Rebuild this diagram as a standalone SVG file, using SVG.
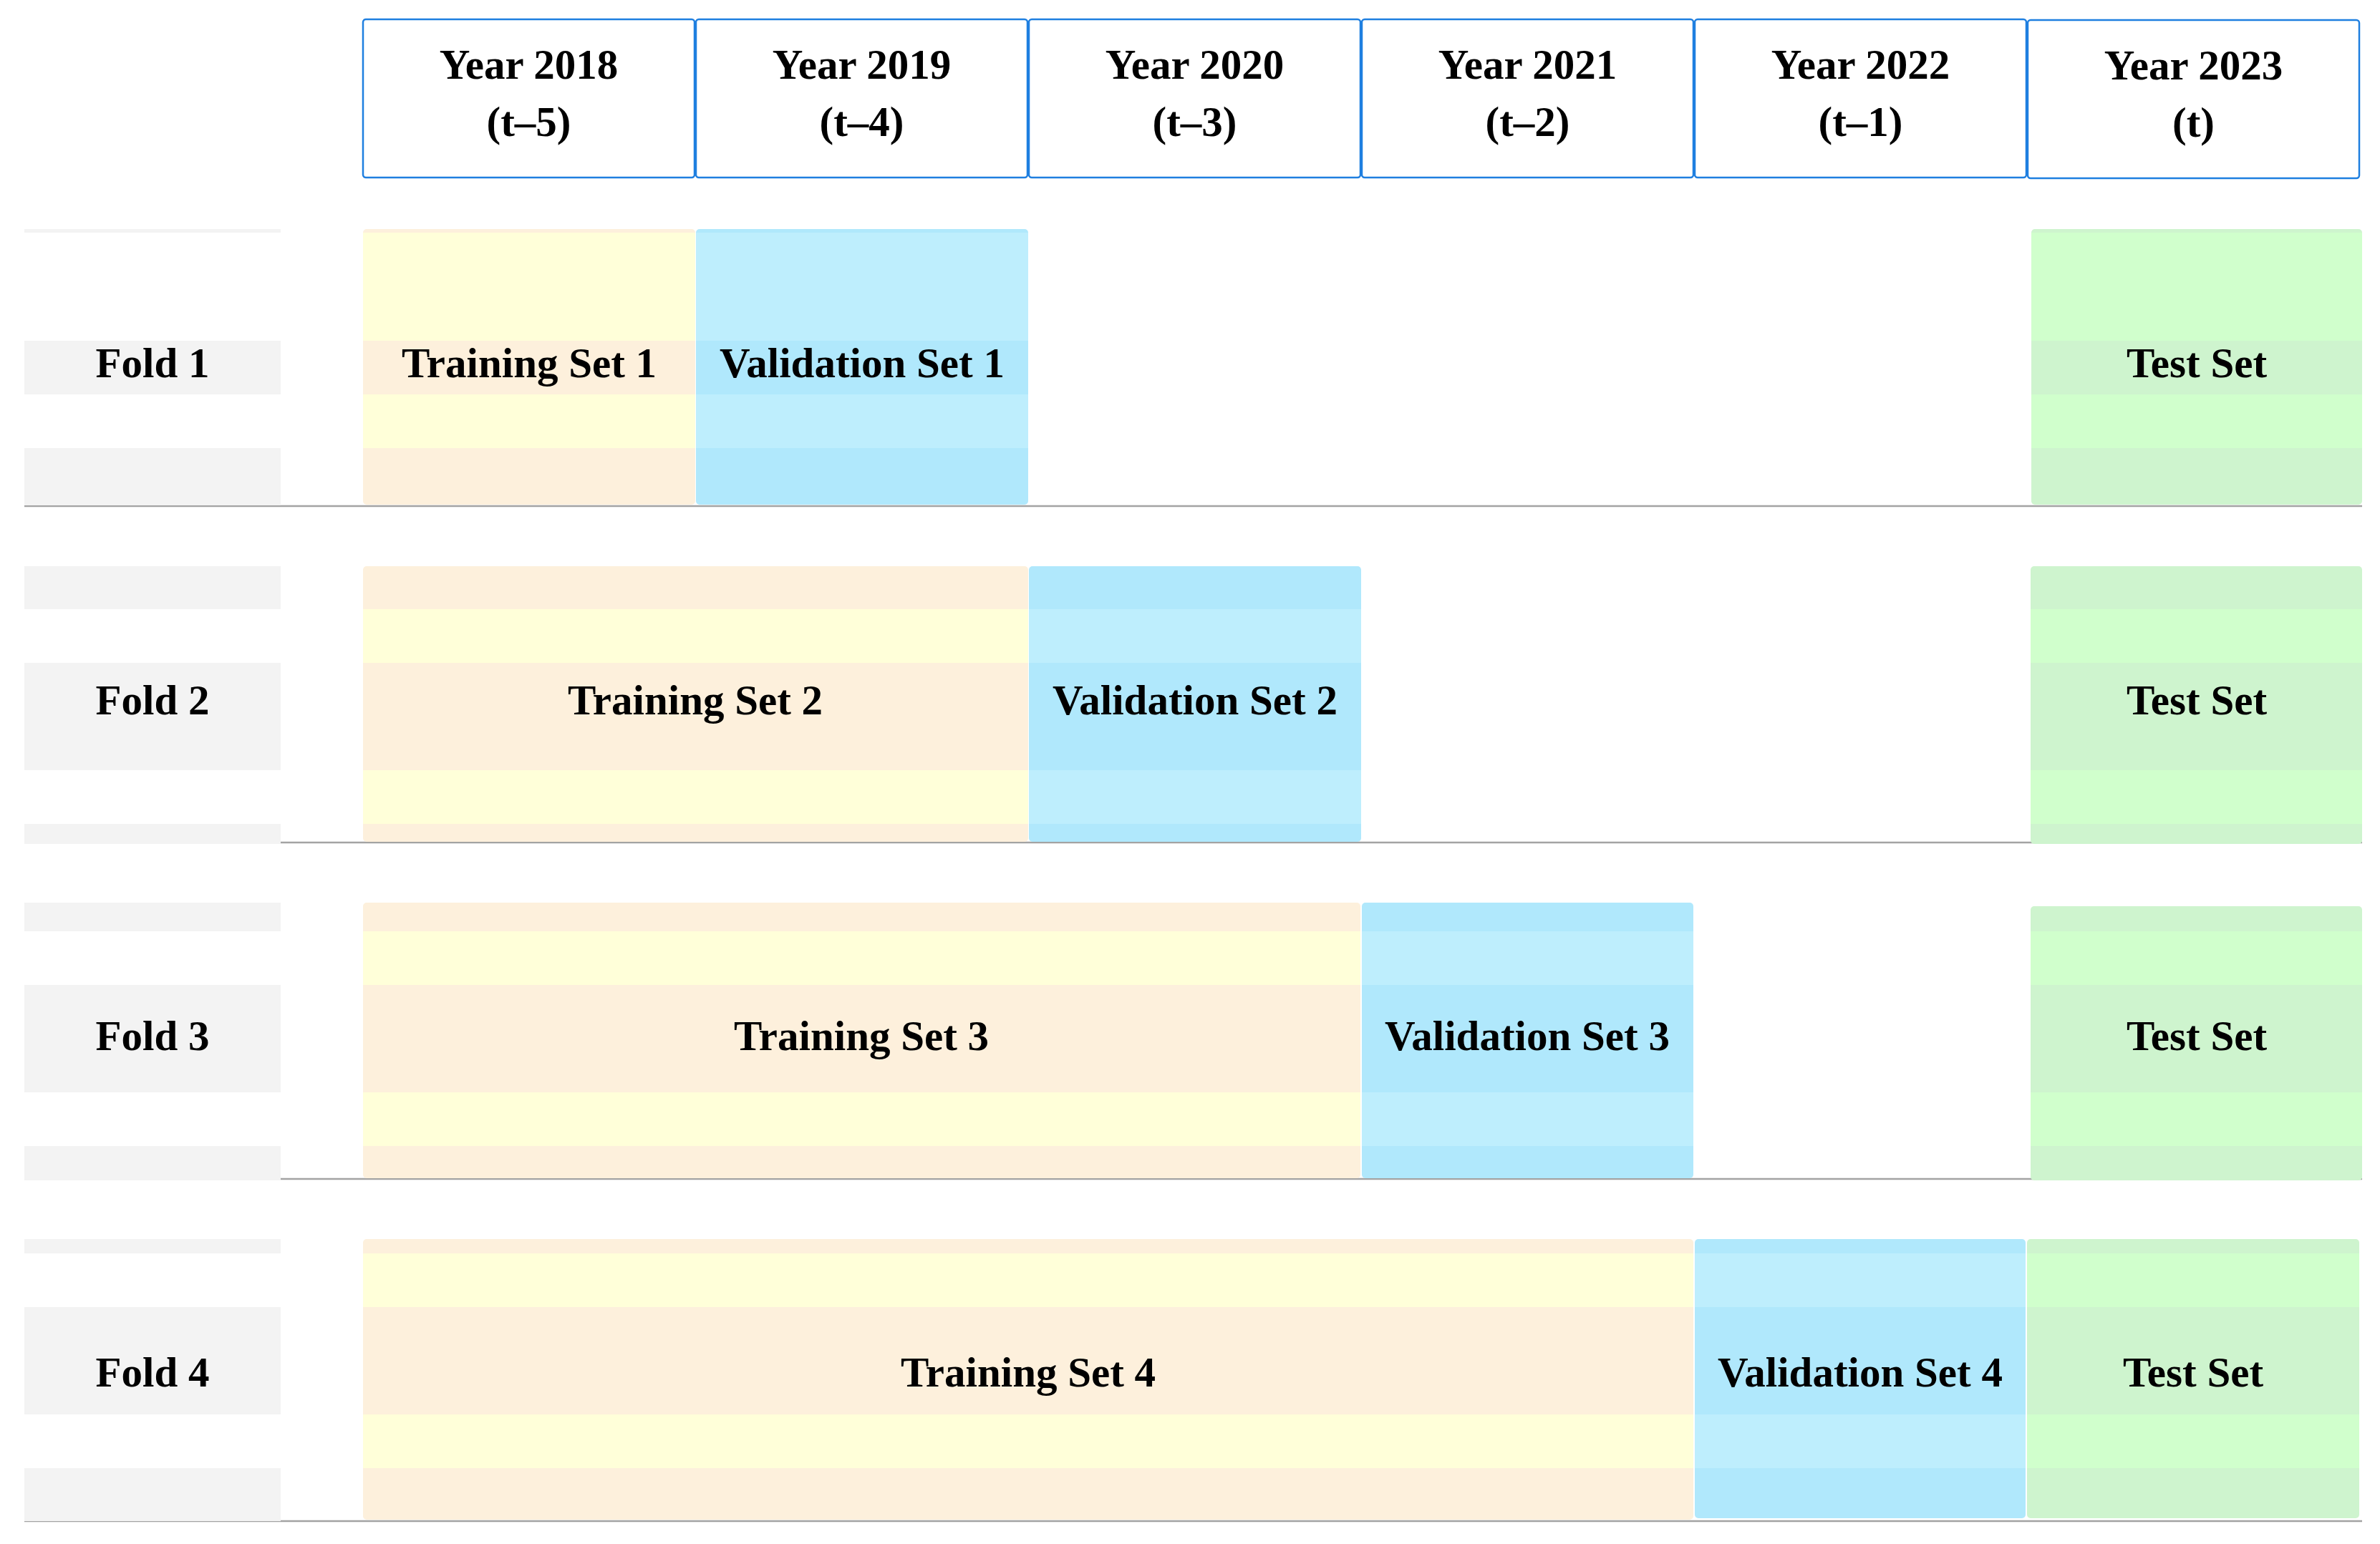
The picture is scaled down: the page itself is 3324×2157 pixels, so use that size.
<svg xmlns="http://www.w3.org/2000/svg" width="3324" height="2157" viewBox="0 0 3324 2157">
<style>
  text { font-family: "Liberation Serif", "Times New Roman", serif; font-weight: bold; font-size: 59px; fill: #000; text-anchor: middle; }
  .hdr { fill: #fff; stroke: #1F7FE0; stroke-width: 2.5; }
  .tr-d { fill: #FDF0DC; } .tr-l { fill: #FFFFD9; }
  .va-d { fill: #B0E8FC; } .va-l { fill: #BEEEFD; }
  .te-d { fill: #CEF4CE; } .te-l { fill: #D0FFCC; }
  .fo-d { fill: #F3F3F3; } .fo-l { fill: #FFFFFF; }
  .sep { stroke: #A3A3A3; stroke-width: 2.5; fill: none; }
</style>
<rect x="0" y="0" width="3324" height="2157" fill="#fff"/>

<g id="connectors">
  <line class="sep" x1="34" y1="707" x2="3299" y2="707"/>
  <line class="sep" x1="34" y1="1177" x2="3299" y2="1177"/>
  <line class="sep" x1="34" y1="1647" x2="3299" y2="1647"/>
  <line class="sep" x1="34" y1="2125" x2="3299" y2="2125"/>
</g>

<g id="header">
  <g id="y2018"><rect class="hdr" x="507" y="27" width="463" height="221" rx="4"/><text x="738.5" y="110">Year 2018</text><text x="738.5" y="190">(t–5)</text></g>
  <g id="y2019"><rect class="hdr" x="972" y="27" width="463" height="221" rx="4"/><text x="1203.5" y="110">Year 2019</text><text x="1203.5" y="190">(t–4)</text></g>
  <g id="y2020"><rect class="hdr" x="1437" y="27" width="463" height="221" rx="4"/><text x="1668.5" y="110">Year 2020</text><text x="1668.5" y="190">(t–3)</text></g>
  <g id="y2021"><rect class="hdr" x="1902" y="27" width="463" height="221" rx="4"/><text x="2133.5" y="110">Year 2021</text><text x="2133.5" y="190">(t–2)</text></g>
  <g id="y2022"><rect class="hdr" x="2367" y="27" width="463" height="221" rx="4"/><text x="2598.5" y="110">Year 2022</text><text x="2598.5" y="190">(t–1)</text></g>
  <g id="y2023"><rect class="hdr" x="2832" y="28" width="463" height="221" rx="4"/><text x="3063.5" y="111">Year 2023</text><text x="3063.5" y="191">(t)</text></g>
</g>

<!-- Fold 1 -->
<g id="fold1">
  <rect class="fo-d" x="34" y="320" width="358" height="386"/>
  <rect class="fo-l" x="34" y="325" width="358" height="151"/>
  <rect class="fo-l" x="34" y="551" width="358" height="75"/>
  <text x="213" y="527">Fold 1</text>
</g>
<g id="train1">
  <rect class="tr-d" x="507" y="320" width="464" height="385" rx="5"/>
  <rect class="tr-l" x="507" y="325" width="464" height="151"/>
  <rect class="tr-l" x="507" y="551" width="464" height="75"/>
  <text x="739" y="527">Training Set 1</text>
</g>
<g id="val1">
  <rect class="va-d" x="972" y="320" width="464" height="385" rx="5"/>
  <rect class="va-l" x="972" y="325" width="464" height="151"/>
  <rect class="va-l" x="972" y="551" width="464" height="75"/>
  <text x="1204" y="527">Validation Set 1</text>
</g>
<g id="test1">
  <rect class="te-d" x="2837" y="320" width="462" height="385" rx="5"/>
  <rect class="te-l" x="2837" y="325" width="462" height="151"/>
  <rect class="te-l" x="2837" y="551" width="462" height="75"/>
  <text x="3068" y="527">Test Set</text>
</g>

<!-- Fold 2 -->
<g id="fold2">
  <rect class="fo-d" x="34" y="791" width="358" height="388"/>
  <rect class="fo-l" x="34" y="851" width="358" height="75"/>
  <rect class="fo-l" x="34" y="1076" width="358" height="75"/>
  <text x="213" y="998">Fold 2</text>
</g>
<g id="train2">
  <rect class="tr-d" x="507" y="791" width="929" height="385" rx="5"/>
  <rect class="tr-l" x="507" y="851" width="929" height="75"/>
  <rect class="tr-l" x="507" y="1076" width="929" height="75"/>
  <text x="971" y="998">Training Set 2</text>
</g>
<g id="val2">
  <rect class="va-d" x="1437" y="791" width="464" height="385" rx="5"/>
  <rect class="va-l" x="1437" y="851" width="464" height="75"/>
  <rect class="va-l" x="1437" y="1076" width="464" height="75"/>
  <text x="1669" y="998">Validation Set 2</text>
</g>
<g id="test2">
  <rect class="te-d" x="2836" y="791" width="463" height="388" rx="5"/>
  <rect class="te-l" x="2836" y="851" width="463" height="75"/>
  <rect class="te-l" x="2836" y="1076" width="463" height="75"/>
  <text x="3068" y="998">Test Set</text>
</g>

<!-- Fold 3 -->
<g id="fold3">
  <rect class="fo-d" x="34" y="1261" width="358" height="388"/>
  <rect class="fo-l" x="34" y="1301" width="358" height="75"/>
  <rect class="fo-l" x="34" y="1526" width="358" height="75"/>
  <text x="213" y="1467">Fold 3</text>
</g>
<g id="train3">
  <rect class="tr-d" x="507" y="1261" width="1393" height="385" rx="5"/>
  <rect class="tr-l" x="507" y="1301" width="1393" height="75"/>
  <rect class="tr-l" x="507" y="1526" width="1393" height="75"/>
  <text x="1203" y="1467">Training Set 3</text>
</g>
<g id="val3">
  <rect class="va-d" x="1902" y="1261" width="463" height="385" rx="5"/>
  <rect class="va-l" x="1902" y="1301" width="463" height="75"/>
  <rect class="va-l" x="1902" y="1526" width="463" height="75"/>
  <text x="2133" y="1467">Validation Set 3</text>
</g>
<g id="test3">
  <rect class="te-d" x="2836" y="1266" width="463" height="383" rx="5"/>
  <rect class="te-l" x="2836" y="1301" width="463" height="75"/>
  <rect class="te-l" x="2836" y="1526" width="463" height="75"/>
  <text x="3068" y="1467">Test Set</text>
</g>

<!-- Fold 4 -->
<g id="fold4">
  <rect class="fo-d" x="34" y="1731" width="358" height="394"/>
  <rect class="fo-l" x="34" y="1751" width="358" height="75"/>
  <rect class="fo-l" x="34" y="1976" width="358" height="75"/>
  <text x="213" y="1937">Fold 4</text>
</g>
<g id="train4">
  <rect class="tr-d" x="507" y="1731" width="1858" height="392" rx="5"/>
  <rect class="tr-l" x="507" y="1751" width="1858" height="75"/>
  <rect class="tr-l" x="507" y="1976" width="1858" height="75"/>
  <text x="1436" y="1937">Training Set 4</text>
</g>
<g id="val4">
  <rect class="va-d" x="2367" y="1731" width="462" height="390" rx="5"/>
  <rect class="va-l" x="2367" y="1751" width="462" height="75"/>
  <rect class="va-l" x="2367" y="1976" width="462" height="75"/>
  <text x="2598" y="1937">Validation Set 4</text>
</g>
<g id="test4">
  <rect class="te-d" x="2831" y="1731" width="464" height="390" rx="5"/>
  <rect class="te-l" x="2831" y="1751" width="464" height="75"/>
  <rect class="te-l" x="2831" y="1976" width="464" height="75"/>
  <text x="3063" y="1937">Test Set</text>
</g>
</svg>
